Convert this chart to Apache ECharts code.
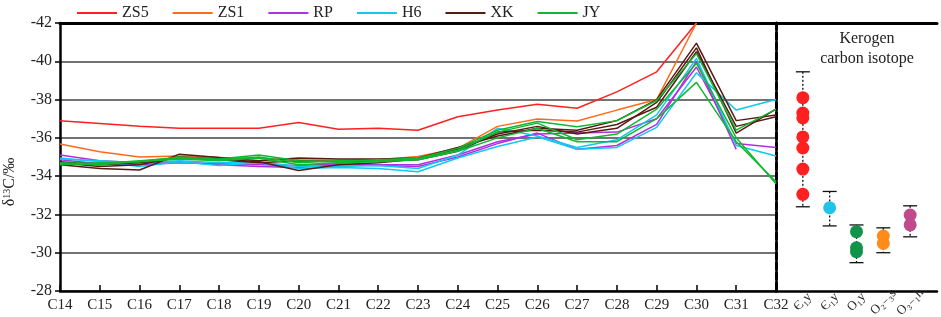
<!DOCTYPE html>
<html><head><meta charset="utf-8">
<script src="https://cdn.jsdelivr.net/npm/echarts@6/dist/echarts.min.js"></script>
<style>html,body{margin:0;padding:0;background:#fff}#c{width:941px;height:317px}</style>
</head><body><div id="c"></div>
<script>
// ---------- data ----------
const categories = ['C14','C15','C16','C17','C18','C19','C20','C21','C22','C23','C24','C25','C26','C27','C28','C29','C30','C31','C32'];
const yTicks = [-42,-40,-38,-36,-34,-32,-30,-28];

const ZS5 = [-36.9,-36.75,-36.6,-36.5,-36.5,-36.5,-36.8,-36.45,-36.5,-36.4,-37.1,-37.45,-37.75,-37.55,-38.4,-39.45,-42.0];
const ZS1 = [-35.68,-35.28,-35.0,-35.05,-34.98,-34.92,-34.85,-34.82,-34.85,-35.03,-35.45,-36.6,-36.98,-36.88,-37.45,-38.0,-42.0];

const RP_a = [-35.1,-34.8,-34.7,-34.75,-34.6,-34.5,-34.45,-34.6,-34.55,-34.5,-35.0,-35.7,-36.25,-35.4,-35.6,-36.7,-40.0,-35.4];
const RP_b = [-34.85,-34.65,-34.6,-34.7,-34.65,-34.6,-34.55,-34.65,-34.6,-34.6,-35.1,-35.8,-36.2,-36.25,-36.3,-37.0,-39.7,-35.7,-35.5];

const H6_a = [-34.95,-34.75,-34.5,-34.75,-34.55,-34.7,-34.4,-34.45,-34.4,-34.23,-34.95,-35.55,-36.05,-35.4,-35.5,-36.55,-39.4,-37.45,-38.0];
const H6_b = [-34.9,-34.8,-34.7,-34.8,-34.7,-34.75,-34.5,-34.5,-34.55,-34.4,-35.1,-36.5,-36.1,-35.5,-35.9,-37.2,-40.15,-35.6,-35.05];

const XK_a = [-34.6,-34.4,-34.32,-35.15,-34.98,-34.8,-34.95,-34.9,-34.9,-34.95,-35.5,-36.1,-36.5,-36.4,-36.9,-38.0,-40.95,-36.9,-37.2];
const XK_b = [-34.7,-34.5,-34.6,-35.0,-34.9,-34.75,-34.3,-34.6,-34.7,-34.9,-35.4,-36.2,-36.6,-36.2,-36.5,-37.85,-40.7,-36.25,-37.5];
const XK_c = [-34.75,-34.6,-34.7,-34.95,-34.85,-34.7,-34.8,-34.75,-34.8,-34.85,-35.3,-36.3,-36.4,-36.3,-36.7,-37.6,-40.5,-36.6,-37.1];

const JY_a = [-34.65,-34.6,-34.77,-35.0,-34.9,-35.1,-34.8,-34.75,-34.85,-34.93,-35.45,-36.4,-36.85,-36.58,-36.9,-37.95,-40.4,-36.4,-37.5];
const JY_b = [-34.7,-34.65,-34.8,-34.95,-34.85,-35.0,-34.7,-34.8,-34.8,-34.9,-35.35,-36.3,-36.77,-35.9,-36.2,-37.5,-39.9,-36.0,-33.6];
const JY_c = [-34.6,-34.7,-34.75,-34.9,-34.8,-34.95,-34.6,-34.7,-34.75,-34.85,-35.3,-36.0,-36.5,-35.8,-35.8,-37.0,-38.9,-35.8,-33.7];

const kerogenLabels = ['Є\u2081y','Є\u2081y','O\u2081y','O\u2082\u208B\u2083s','O\u2083\u208B\u2081h'];
const kerogenLow  = [-39.45,-33.2,-31.45,-31.3,-32.45];
const kerogenHigh = [-32.4,-31.4,-29.48,-30.0,-30.83];
const kerogenE1y_a = [-38.1,-37.3,-37.04,-36.05,-35.47,-34.37,-33.05];
const kerogenE1y_b = [-32.35];
const kerogenO1y   = [-31.1,-30.26,-30.05];
const kerogenO23s  = [-30.87,-30.49];
const kerogenO31h  = [-31.97,-31.45];

// ---------- chart ----------
const serif = '"Liberation Serif","DejaVu Serif",serif';
const colors = {ZS5:'#ff2020',ZS1:'#ff6a1a',RP:'#b030e0',H6:'#10c8f0',XK:'#5a1a14',JY:'#10b830'};

function lineSeries(name, data){
  return {name, type:'line', data, xAxisIndex:0, yAxisIndex:0, symbol:'none', smooth:false,
    lineStyle:{width:1.5, color:colors[name]}, itemStyle:{color:colors[name]}, clip:true};
}
function pts(idx, arr, color){
  return {type:'scatter', xAxisIndex:2, yAxisIndex:2, symbolSize:13, z:5,
    itemStyle:{color, opacity:1}, data: arr.map(v=>[idx+1, v])};
}

const chart = echarts.init(document.getElementById('c'), null, {renderer:'canvas'});
chart.setOption({
  animation:false,
  textStyle:{fontFamily:serif},
  legend:{top:0, left:72, itemWidth:40, itemHeight:14, itemGap:24, icon:'path://M0,6L40,6L40,8L0,8Z',
    textStyle:{fontFamily:serif, fontSize:16, color:'#222'},
    data:['ZS5','ZS1','RP','H6','XK','JY']},
  title:{text:'Kerogen\ncarbon isotope', left:862, top:24, textAlign:'center',
    textStyle:{fontFamily:serif, fontSize:16, fontWeight:'normal', color:'#222', lineHeight:20}},
  grid:[
    {left:60, top:23, width:716, height:268, containLabel:false, outerBoundsMode:'none'},
    {left:776, top:23, width:161, height:268, containLabel:false, outerBoundsMode:'none'}
  ],
  xAxis:[
    {type:'category', gridIndex:0, data:categories, boundaryGap:false, position:'bottom',
      axisLine:{lineStyle:{color:'#000', width:2.5}},
      axisTick:{inside:true, length:6, lineStyle:{color:'#000', width:1.5}},
      axisLabel:{fontFamily:serif, fontSize:15, color:'#222', margin:7, interval:0}},
    {type:'category', gridIndex:0, data:categories, boundaryGap:false, position:'top',
      axisLine:{lineStyle:{color:'#000', width:3}}, axisTick:{show:false}, axisLabel:{show:false}},
    {type:'value', gridIndex:1, min:0, max:6, interval:1, position:'bottom',
      axisLine:{lineStyle:{color:'#000', width:2.5}}, axisTick:{show:false}, splitLine:{show:false},
      axisLabel:{fontFamily:serif, fontSize:13, color:'#222', rotate:45, margin:11, align:'center', verticalAlign:'middle',
        formatter:v=> (v>=1 && v<=5) ? kerogenLabels[v-1] : ''}},
    {type:'value', gridIndex:1, min:0, max:6, position:'top',
      axisLine:{lineStyle:{color:'#000', width:3}}, axisTick:{show:false}, axisLabel:{show:false}, splitLine:{show:false}}
  ],
  yAxis:[
    {type:'value', gridIndex:0, min:yTicks[0], max:yTicks[yTicks.length-1], interval:2, inverse:true, position:'left',
      axisLine:{show:true, lineStyle:{color:'#000', width:2.5}},
      axisTick:{show:true, length:5, lineStyle:{color:'#000', width:1.5}},
      axisLabel:{fontFamily:serif, fontSize:16, color:'#222', margin:8},
      splitLine:{show:true, lineStyle:{color:'#444', width:1.5}},
      name:'{a|δ}{s|13}{a|C/‰}', nameLocation:'middle', nameGap:42, nameRotate:90,
      nameTextStyle:{padding:[0,50,0,0], rich:{a:{fontFamily:serif, fontSize:16, color:'#222'}, s:{fontFamily:serif, fontSize:10, color:'#222', verticalAlign:'top', padding:[0,0,6,0]}}}},
    {type:'value', gridIndex:0, min:-42, max:-28, inverse:true, position:'right',
      axisLine:{show:true, lineStyle:{color:'#000', width:3, type:[6,4]}}, axisTick:{show:false}, axisLabel:{show:false}, splitLine:{show:false}},
    {type:'value', gridIndex:1, min:-42, max:-28, inverse:true, position:'right',
      axisLine:{show:true, lineStyle:{color:'#000', width:2.5}}, axisTick:{show:false}, axisLabel:{show:false}, splitLine:{show:false}}
  ],
  series:[
    lineSeries('ZS5', ZS5), lineSeries('ZS1', ZS1),
    lineSeries('RP', RP_a), lineSeries('RP', RP_b),
    lineSeries('H6', H6_a), lineSeries('H6', H6_b),
    lineSeries('XK', XK_a), lineSeries('XK', XK_b), lineSeries('XK', XK_c),
    lineSeries('JY', JY_a), lineSeries('JY', JY_b), lineSeries('JY', JY_c),
    {type:'custom', xAxisIndex:2, yAxisIndex:2, z:3,
      data: kerogenLow.map((lo,i)=>[i+1, lo, kerogenHigh[i]]),
      renderItem:(params, api)=>{
        const p1 = api.coord([api.value(0), api.value(1)]);
        const p2 = api.coord([api.value(0), api.value(2)]);
        const w = 7;
        const st = {stroke:'#111', lineWidth:1.3};
        return {type:'group', children:[
          {type:'line', shape:{x1:p1[0], y1:p1[1], x2:p2[0], y2:p2[1]}, style:{stroke:'#111', lineWidth:1.3, lineDash:[2,2]}},
          {type:'line', shape:{x1:p1[0]-w, y1:p1[1], x2:p1[0]+w, y2:p1[1]}, style:st},
          {type:'line', shape:{x1:p2[0]-w, y1:p2[1], x2:p2[0]+w, y2:p2[1]}, style:st}
        ]};
      }},
    pts(0, kerogenE1y_a, '#ff2020'),
    pts(1, kerogenE1y_b, '#20c4e8'),
    pts(2, kerogenO1y, '#10944a'),
    pts(3, kerogenO23s, '#ff8c1a'),
    pts(4, kerogenO31h, '#c04a8c')
  ]
});
</script></body></html>
